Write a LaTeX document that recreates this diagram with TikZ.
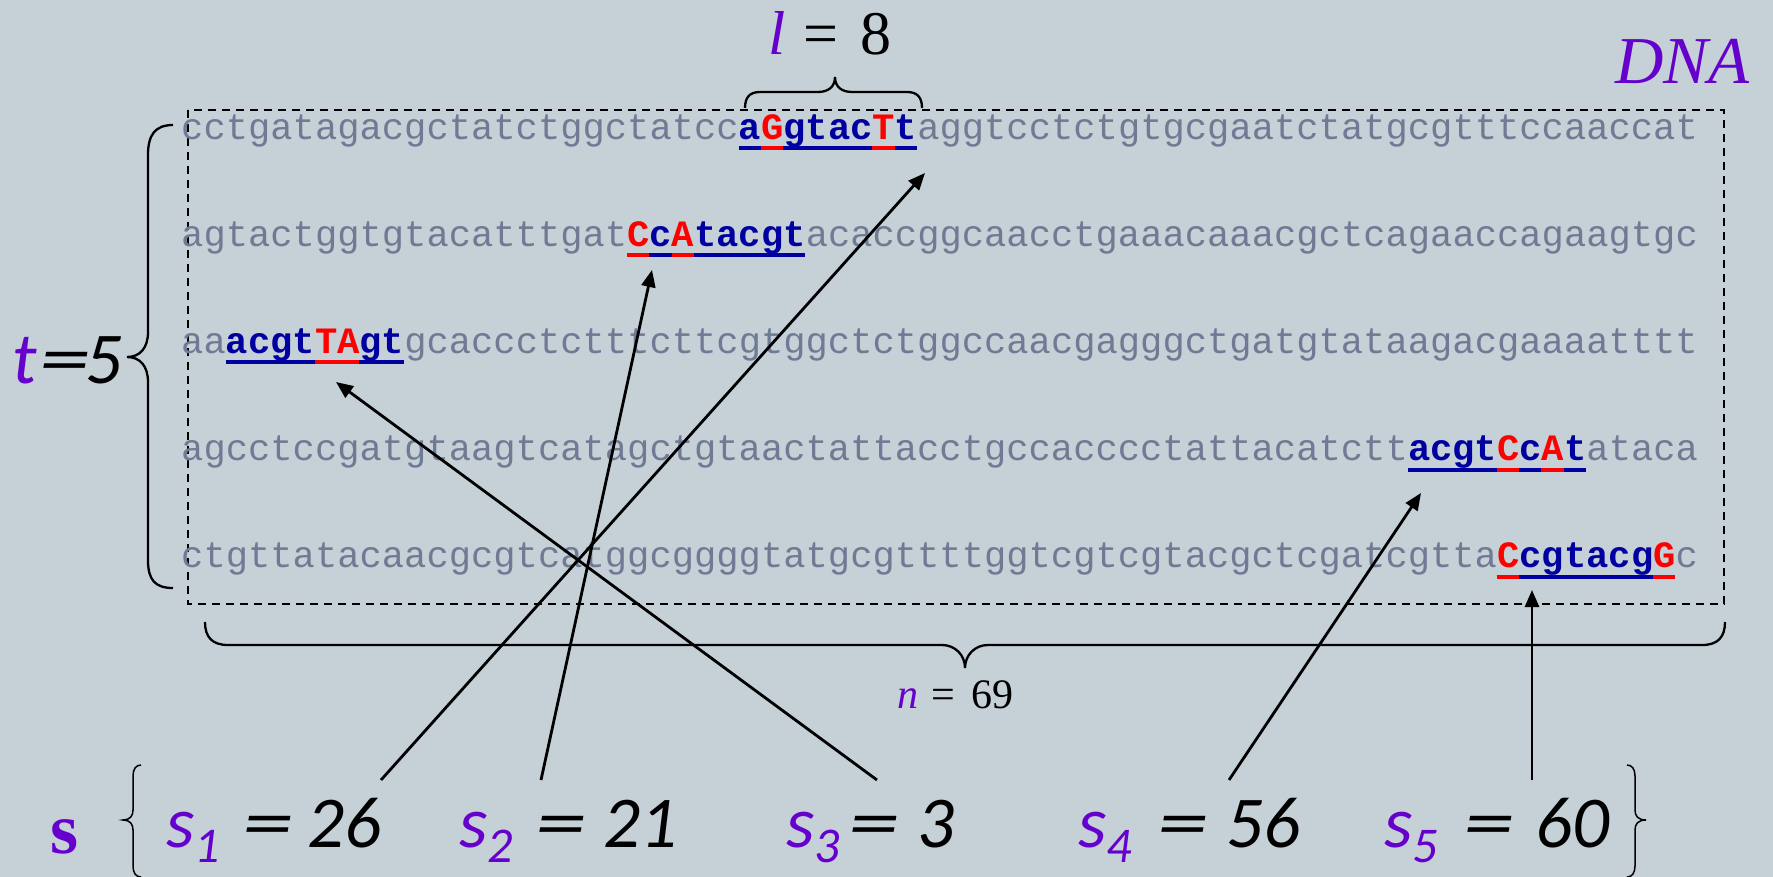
\documentclass[tikz,border=0pt]{standalone}
\usepackage{fontspec}
\usepackage{graphicx}
\usetikzlibrary{arrows.meta}
\newfontfamily\monofont{Liberation Mono}
\newfontfamily\lblfont{Carlito}
\newfontfamily\timesfont{Liberation Serif}
\definecolor{bg}{RGB}{197,208,215}
\definecolor{vio}{RGB}{102,0,204}
\definecolor{seqgray}{RGB}{112,122,148}
\definecolor{dblue}{RGB}{0,0,160}
\definecolor{mred}{RGB}{255,0,0}
\newcommand{\gs}[1]{{\color{seqgray}#1}}
\newcommand{\bb}[1]{{\bfseries\color{dblue}#1}}
\newcommand{\rr}[1]{{\bfseries\color{mred}#1}}
\newcommand{\wideq}{\scalebox{1.4}[1]{=}}
\newcommand{\slab}[6]{\rlap{\color{vio}s\raisebox{-15pt}{\fontsize{50}{50}\selectfont #2}}\hspace{#3pt}\rlap{\wideq}\hspace{#4pt}#5}
\begin{document}
\begin{tikzpicture}[x=1pt,y=-1pt,
  seq/.style={font=\monofont\fontsize{37.17}{40}\selectfont, inner sep=0pt, anchor=base west},
  lbl/.style={font=\lblfont\itshape\fontsize{73}{80}\selectfont, inner sep=0pt, anchor=base west},
  tms/.style={inner sep=0pt, anchor=base west},
  ulb/.style={draw=dblue, line width=4pt},
  ulr/.style={draw=mred, line width=4pt},
  brace/.style={draw=black, line width=2.3pt},
  thinbrace/.style={draw=black, line width=1.5pt},
  arr/.style={draw=black, line width=2.8pt, -{Triangle[length=17pt,width=14pt]}},
  box/.style={draw=black, line width=2.2pt, dash pattern=on 8pt off 6pt}]
\fill[bg] (0,0) rectangle (1773,877);
\useasboundingbox (0,0) rectangle (1773,877);
\def\cw{22.3}
\def\ox{181}
% dashed box
\draw[box] (188,110) rectangle (1724,604);
% sequence rows
\node[seq] (r1) at (\ox,139.5) {\gs{cctgatagacgctatctggctatcc}\bb{a}\rr{G}\bb{gtac}\rr{T}\bb{t}\gs{aggtcctctgtgcgaatctatgcgtttccaaccat}};
\node[seq] (r2) at (\ox,246.5) {\gs{agtactggtgtacatttgat}\rr{C}\bb{c}\rr{A}\bb{tacgt}\gs{acaccggcaacctgaaacaaacgctcagaaccagaagtgc}};
\node[seq] (r3) at (\ox,353.5) {\gs{aa}\bb{acgt}\rr{TA}\bb{gt}\gs{gcaccctctttcttcgtggctctggccaacgagggctgatgtataagacgaaaatttt}};
\node[seq] (r4) at (\ox,460.5) {\gs{agcctccgatgtaagtcatagctgtaactattacctgccacccctattacatctt}\bb{acgt}\rr{C}\bb{c}\rr{A}\bb{t}\gs{ataca}};
\node[seq] (r5) at (\ox,567.5) {\gs{ctgttatacaacgcgtcatggcggggtatgcgttttggtcgtcgtacgctcgatcgtta}\rr{C}\bb{cgtacg}\rr{G}\gs{c}};
% underlines
\draw[ulb] ({\ox+25*\cw},148.5) -- ({\ox+33*\cw},148.5);
\draw[ulr] ({\ox+26*\cw},148.5) -- ({\ox+27*\cw},148.5);
\draw[ulr] ({\ox+31*\cw},148.5) -- ({\ox+32*\cw},148.5);
\draw[ulb] ({\ox+20*\cw},255.5) -- ({\ox+28*\cw},255.5);
\draw[ulr] ({\ox+20*\cw},255.5) -- ({\ox+21*\cw},255.5);
\draw[ulr] ({\ox+22*\cw},255.5) -- ({\ox+23*\cw},255.5);
\draw[ulb] ({\ox+2*\cw},362.5) -- ({\ox+10*\cw},362.5);
\draw[ulr] ({\ox+6*\cw},362.5) -- ({\ox+8*\cw},362.5);
\draw[ulb] ({\ox+55*\cw},470) -- ({\ox+63*\cw},470);
\draw[ulr] ({\ox+59*\cw},470) -- ({\ox+60*\cw},470);
\draw[ulr] ({\ox+61*\cw},470) -- ({\ox+62*\cw},470);
\draw[ulb] ({\ox+59*\cw},577) -- ({\ox+67*\cw},577);
\draw[ulr] ({\ox+59*\cw},577) -- ({\ox+60*\cw},577);
\draw[ulr] ({\ox+66*\cw},577) -- ({\ox+67*\cw},577);
% top brace l = 8
\draw[brace] (745,108) .. controls (745,97) and (750,92) .. (760,92) -- (818,92) .. controls (828,92) and (835,87) .. (835,77) .. controls (835,87) and (842,92) .. (852,92) -- (907,92) .. controls (917,92) and (922,97) .. (922,108);
\node[tms, font=\timesfont\fontsize{62}{66}\selectfont] (lab) at (768,55) {\rlap{\itshape\color{vio}l}\hspace{35pt}\rlap{=}\hspace{57pt}8};
% DNA
\node[tms, font=\timesfont\itshape\fontsize{67}{70}\selectfont, text=vio] (dna) at (1615,84) {DNA};
% left brace t = 5
\draw[brace] (173,125) .. controls (155,125) and (148,135) .. (148,155) -- (148,332) .. controls (148,348) and (140,357) .. (127,357) .. controls (140,357) and (148,366) .. (148,382) -- (148,560) .. controls (148,580) and (155,588) .. (173,588);
\node[lbl] (tlab) at (12,383) {\rlap{\color{vio}t}\hspace{27pt}\rlap{\wideq}\hspace{46pt}5};
% bottom brace n = 69
\draw[brace] (205,622) .. controls (205,637) and (212,645) .. (228,645) -- (942,645) .. controls (955,645) and (965,655) .. (965,668) .. controls (965,655) and (975,645) .. (988,645) -- (1702,645) .. controls (1718,645) and (1725,637) .. (1725,622);
\node[tms, font=\timesfont\fontsize{42}{44}\selectfont] (nlab) at (897,708) {\rlap{\itshape\color{vio}n}\hspace{34pt}\rlap{=}\hspace{40pt}69};
% S set
\node[tms, font=\timesfont\fontsize{72}{74}\selectfont\bfseries, text=vio] (S) at (50,853) {s};
\draw[thinbrace] (141,765) .. controls (136,765) and (133,769) .. (133,776) -- (133,810) .. controls (133,816) and (130,820) .. (123,820) .. controls (130,820) and (133,824) .. (133,830) -- (133,866) .. controls (133,873) and (136,877) .. (141,877);
\draw[thinbrace] (1627,765) .. controls (1632,765) and (1635,769) .. (1635,776) -- (1635,810) .. controls (1635,816) and (1638,820) .. (1646,820) .. controls (1638,820) and (1635,824) .. (1635,830) -- (1635,866) .. controls (1635,873) and (1632,877) .. (1627,877);
\node[lbl] (s1) at (166,847) {\slab{s1}{1}{76}{65}{26}{}};
\node[lbl] (s2) at (459,847) {\slab{s2}{2}{76}{68}{21}{}};
\node[lbl] (s3) at (786,847) {\slab{s3}{3}{62}{69}{3}{}};
\node[lbl] (s4) at (1078,847) {\slab{s4}{4}{79}{69}{56}{}};
\node[lbl] (s5) at (1384,847) {\slab{s5}{5}{79}{72}{60}{}};
% arrows
\coordinate (t1) at (381,780); \coordinate (h1) at (925,173);
\coordinate (t2) at (541,780); \coordinate (h2) at (652,270);
\coordinate (t3) at (877,780); \coordinate (h3) at (336,382);
\coordinate (t4) at (1229,780); \coordinate (h4) at (1421,493);
\coordinate (t5) at (1532,780); \coordinate (h5) at (1532,590);
\draw[arr] (t1) -- (h1);
\draw[arr] (t2) -- (h2);
\draw[arr] (t3) -- (h3);
\draw[arr] (t4) -- (h4);
\draw[arr] (t5) -- (h5);
\end{tikzpicture}
\end{document}
